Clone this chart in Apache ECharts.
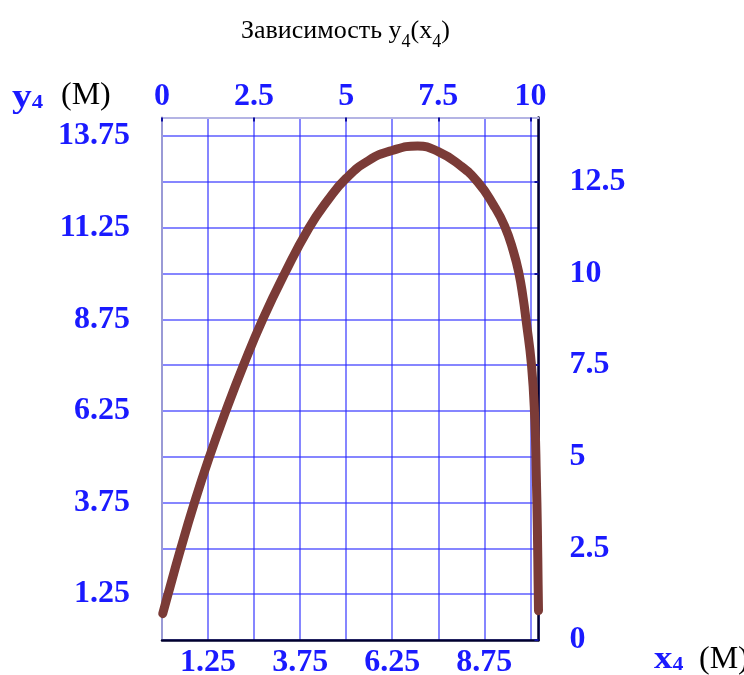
<!DOCTYPE html>
<html>
<head>
<meta charset="utf-8">
<script src="https://cdn.jsdelivr.net/npm/echarts@6/dist/echarts.min.js"></script>
<style>
  html, body { margin: 0; padding: 0; background: #ffffff; }
  #chart { width: 744px; height: 675px; }
</style>
</head>
<body>
<div id="chart"></div>
<script>
// Trajectory y4(x4), metres
const x4 = [0.02, 0.15, 0.5, 0.86, 1.27, 1.74, 2.22, 2.73, 3.33, 3.98, 4.5, 5.0, 5.6, 6.25, 6.94, 7.5, 8.07, 8.57, 9.0, 9.3, 9.54, 9.69, 9.8, 9.88, 10.03, 10.12, 10.16, 10.19, 10.21, 10.22];
const y4 = [0.72, 1.2, 2.46, 3.68, 4.95, 6.27, 7.52, 8.74, 10.0, 11.23, 12.0, 12.6, 13.08, 13.36, 13.48, 13.33, 12.97, 12.5, 11.87, 11.3, 10.6, 10.0, 9.35, 8.75, 7.5, 6.0, 4.5, 3.0, 1.5, 0.8];

// Labelled ticks on each side of the frame
const bottomTickLabels = [1.25, 3.75, 6.25, 8.75];
const topTickLabels = [0, 2.5, 5, 7.5, 10];
const leftTickLabels = [1.25, 3.75, 6.25, 8.75, 11.25, 13.75];
const rightTickLabels = [0, 2.5, 5, 7.5, 10, 12.5];

const xMax = 10.22;
const yMax = 14.26;

const serif = "'Liberation Serif', 'Times New Roman', serif";
const labelBlue = '#1a1aff';
const gridBlue = 'rgba(40,40,255,0.75)';
const frameDark = '#00002e';
const tickColor = '#1010a0';

function pick(list) {
  return function (v) {
    for (const t of list) {
      if (Math.abs(t - v) < 1e-6) return String(t);
    }
    return '';
  };
}

const tickLabelStyle = {
  color: labelBlue,
  fontFamily: serif,
  fontWeight: 'bold',
  fontSize: 32
};

const chart = echarts.init(document.getElementById('chart'), null, { renderer: 'canvas' });

chart.setOption({
  animation: false,
  backgroundColor: '#ffffff',
  grid: { left: 162, top: 117.5, right: 205.5, bottom: 35, containLabel: false, outerBoundsMode: 'none' },
  title: {
    text: '{a|Зависимость y}{s|4}{a|(x}{s|4}{a|)}',
    left: 236,
    top: 6,
    textStyle: {
      fontWeight: 'normal',
      rich: {
        a: { fontFamily: serif, fontWeight: 'normal', fontSize: 26, color: '#000', lineHeight: 40 },
        s: { fontFamily: serif, fontWeight: 'normal', fontSize: 18, color: '#000', lineHeight: 40, padding: [22, 0, 0, 0] }
      }
    }
  },
  xAxis: [
    {
      type: 'value', position: 'bottom', min: 0, max: xMax, interval: 1.25,
      axisLine: { show: true, onZero: false, lineStyle: { color: frameDark, width: 2.5 } },
      axisTick: { show: false },
      axisLabel: Object.assign({ formatter: pick(bottomTickLabels), margin: 7, showMaxLabel: false }, tickLabelStyle),
      splitLine: { show: true, lineStyle: { color: gridBlue, width: 1.5 } }
    },
    {
      type: 'value', position: 'top', min: 0, max: xMax, interval: 2.5,
      axisLine: { show: true, onZero: false, lineStyle: { color: '#b4b4e4', width: 2 } },
      axisTick: { show: true, inside: true, length: 4, lineStyle: { color: tickColor, width: 2 } },
      axisLabel: Object.assign({ formatter: pick(topTickLabels), margin: 5, showMaxLabel: false }, tickLabelStyle),
      splitLine: { show: false }
    }
  ],
  yAxis: [
    {
      type: 'value', position: 'left', min: 0, max: yMax, interval: 1.25,
      axisLine: { show: true, onZero: false, lineStyle: { color: '#9a9ad6', width: 2 } },
      axisTick: { show: false },
      axisLabel: Object.assign({ formatter: pick(leftTickLabels), margin: 32, showMaxLabel: false }, tickLabelStyle),
      splitLine: { show: true, lineStyle: { color: gridBlue, width: 1.5 } }
    },
    {
      type: 'value', position: 'right', min: 0, max: yMax, interval: 2.5,
      axisLine: { show: true, onZero: false, lineStyle: { color: frameDark, width: 2.5 } },
      axisTick: { show: true, inside: true, length: 4, lineStyle: { color: tickColor, width: 2 } },
      axisLabel: Object.assign({ formatter: pick(rightTickLabels), margin: 31, showMaxLabel: false }, tickLabelStyle),
      splitLine: { show: false }
    }
  ],
  graphic: [
    {
      type: 'text', left: 12, top: 82, scaleX: 1.2,
      style: {
        text: '{v|y}{s|4}',
        rich: {
          v: { fontFamily: serif, fontWeight: 'bold', fontSize: 33, fill: labelBlue, lineHeight: 38 },
          s: { fontFamily: serif, fontWeight: 'bold', fontSize: 19, fill: labelBlue, lineHeight: 38, padding: [10, 0, 0, 0] }
        }
      }
    },
    {
      type: 'text', left: 61, top: 80,
      style: { text: '(M)', font: '32px ' + serif, fill: '#000' }
    },
    {
      type: 'text', left: 654, top: 644, scaleX: 1.15,
      style: {
        text: '{v|x}{s|4}',
        rich: {
          v: { fontFamily: serif, fontWeight: 'bold', fontSize: 32, fill: labelBlue, lineHeight: 38 },
          s: { fontFamily: serif, fontWeight: 'bold', fontSize: 19, fill: labelBlue, lineHeight: 38, padding: [10, 0, 0, 0] }
        }
      }
    },
    {
      type: 'text', left: 699, top: 644,
      style: { text: '(M)', font: '32px ' + serif, fill: '#000' }
    }
  ],
  series: [
    {
      type: 'line',
      xAxisIndex: 0,
      yAxisIndex: 0,
      data: x4.map((x, i) => [x, y4[i]]),
      showSymbol: false,
      smooth: 0.5,
      lineStyle: { color: '#7b3b37', width: 9, cap: 'round', join: 'round' },
      z: 5
    }
  ]
});
</script>
</body>
</html>
